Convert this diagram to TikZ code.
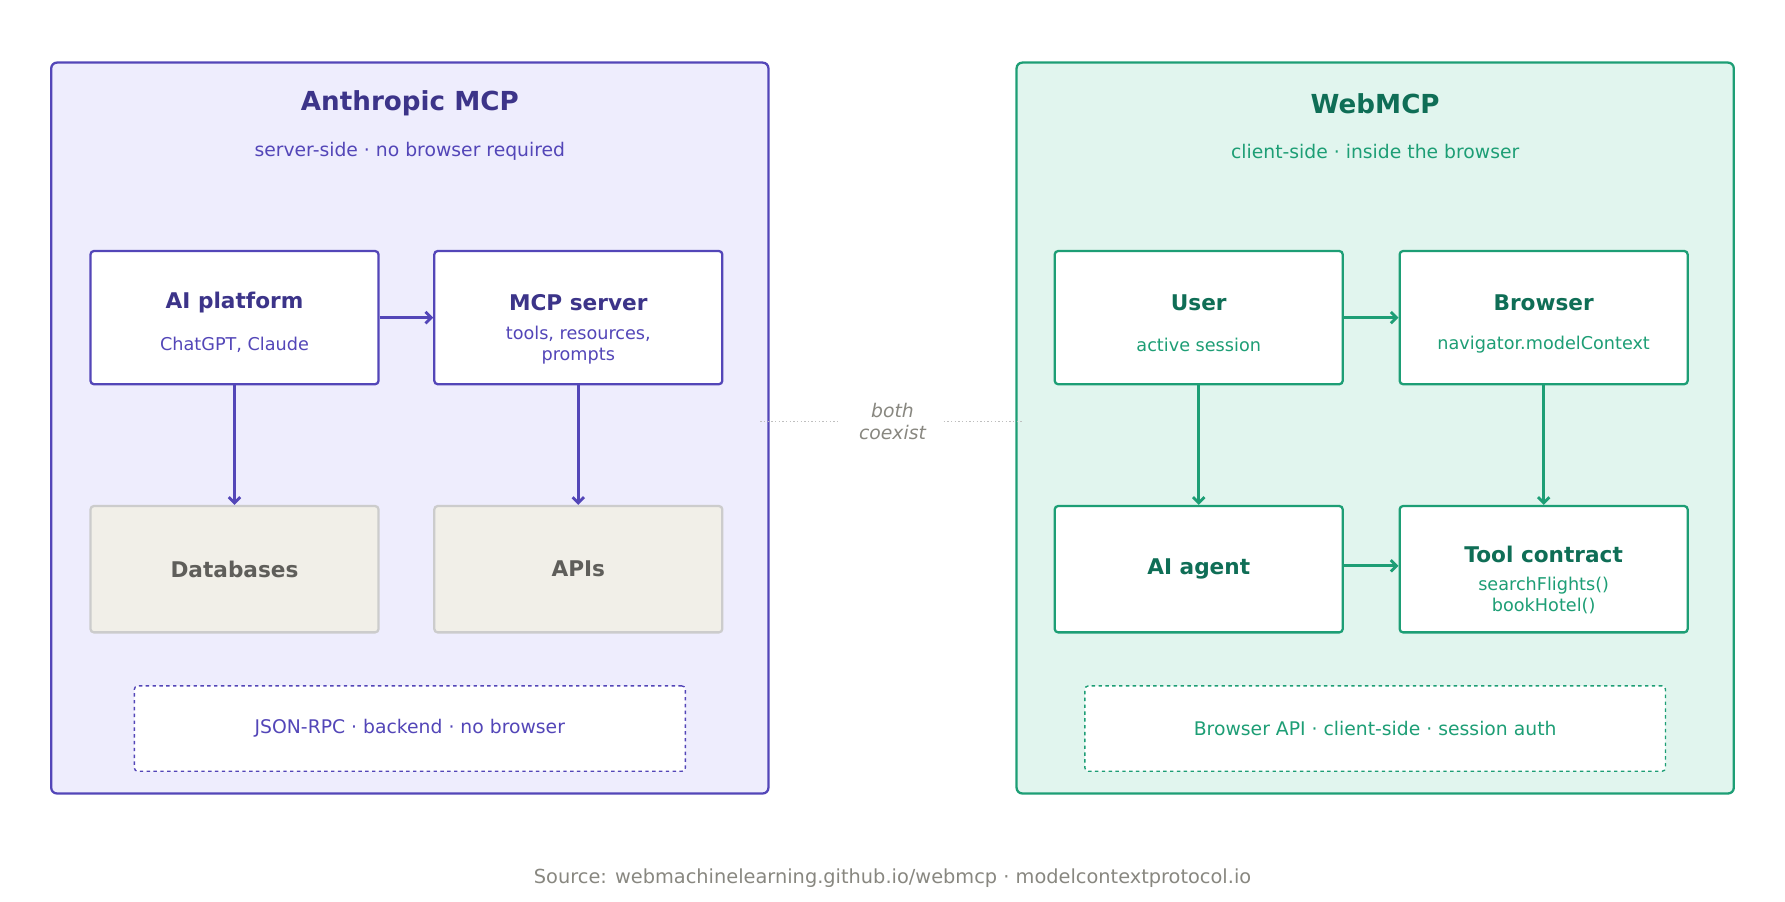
\documentclass[tikz,border=0pt]{standalone}
\usepackage{fontspec}
\setmainfont{DejaVu Sans}
\usetikzlibrary{arrows.meta,positioning}
\definecolor{mcpline}{HTML}{5346B8}
\definecolor{mcpdark}{HTML}{3C3489}
\definecolor{mcpfill}{HTML}{EEEDFD}
\definecolor{webline}{HTML}{1D9E75}
\definecolor{webdark}{HTML}{0F6E56}
\definecolor{webfill}{HTML}{E1F5EE}
\definecolor{storefill}{HTML}{F1EFE8}
\definecolor{storetext}{HTML}{5F5E5A}
\definecolor{note}{HTML}{888780}
\tikzset{
  Panel/.style={draw, line width=2pt, rounded corners=5pt, minimum width=630pt, minimum height=642pt},
  Block/.style={draw, fill=white, line width=2pt, rounded corners=3pt, minimum width=253pt, minimum height=117pt, align=center},
  Store/.style={Block, draw=black!20, fill=storefill, text=storetext, minimum height=111pt, font=\fontsize{19}{22}\selectfont\bfseries},
  Legend/.style={draw, fill=white, dashed, line width=1.2pt, rounded corners=3pt, minimum height=75pt},
  arrow/.style={-{Straight Barb[length=5pt,width=10pt,line width=2.5pt]}, line width=2.5pt},
}
\begin{document}
\begin{tikzpicture}[x=1pt,y=-1pt]
	\useasboundingbox (0,0) rectangle (1568,792);
	% Anthropic MCP
	\node [Panel, draw=mcpline, fill=mcpfill] (mcp) at (360,376) {};
	\node [text=mcpdark, font=\fontsize{23}{26}\selectfont\bfseries] (mcp_title) at (360,91) {Anthropic MCP};
	\node [text=mcpline, font=\fontsize{16.5}{20}\selectfont] (mcp_sub) at (360,133) {server-side · no browser required};
	\node [Block, draw=mcpline] (platform) at (206,279) {};
	\node [text=mcpdark, font=\fontsize{19}{22}\selectfont\bfseries] at (206,266) {AI platform};
	\node [text=mcpline, font=\fontsize{15.5}{18}\selectfont] at (206,303) {ChatGPT, Claude};
	\node [Block, draw=mcpline] (server) at (508,279) {};
	\node [text=mcpdark, font=\fontsize{19}{22}\selectfont\bfseries] at (508,266) {MCP server};
	\node [text=mcpline, font=\fontsize{15.5}{18}\selectfont, align=center] at (508,303) {tools, resources,\\prompts};
	\node [Store] (databases) at (206,500) {Databases};
	\node [Store] (apis) at (508,500) {APIs};
	\node [Legend, draw=mcpline, minimum width=484pt, text=mcpline, font=\fontsize{16.5}{20}\selectfont] (mcp_note) at (360,640) {JSON-RPC · backend · no browser};
	% WebMCP
	\node [Panel, draw=webline, fill=webfill] (web) at (1208,376) {};
	\node [text=webdark, font=\fontsize{23}{26}\selectfont\bfseries] (web_title) at (1208,91) {WebMCP};
	\node [text=webline, font=\fontsize{16.5}{20}\selectfont] (web_sub) at (1208,133) {client-side · inside the browser};
	\node [Block, draw=webline] (user) at (1053,279) {};
	\node [text=webdark, font=\fontsize{19}{22}\selectfont\bfseries] at (1053,266) {User};
	\node [text=webline, font=\fontsize{15.5}{18}\selectfont] at (1053,303) {active session};
	\node [Block, draw=webline] (browser) at (1356,279) {};
	\node [text=webdark, font=\fontsize{19}{22}\selectfont\bfseries] at (1356,266) {Browser};
	\node [text=webline, font=\fontsize{15.5}{18}\selectfont] at (1356,303) {navigator.modelContext};
	\node [Block, draw=webline, minimum height=111pt, text=webdark, font=\fontsize{19}{22}\selectfont\bfseries] (agent) at (1053,500) {AI agent};
	\node [Block, draw=webline, minimum height=111pt] (contract) at (1356,500) {};
	\node [text=webdark, font=\fontsize{19}{22}\selectfont\bfseries] at (1356,487) {Tool contract};
	\node [text=webline, font=\fontsize{15.5}{18}\selectfont, align=center] at (1356,523) {searchFlights()\\bookHotel()};
	\node [Legend, draw=webline, minimum width=510pt, text=webline, font=\fontsize{16.5}{20}\selectfont] (web_note) at (1208,640) {Browser API · client-side · session auth};
	% arrows
	\draw [arrow, draw=mcpline] (platform) to (server);
	\draw [arrow, draw=mcpline] (platform) to (databases);
	\draw [arrow, draw=mcpline] (server) to (apis);
	\draw [arrow, draw=webline] (user) to (browser);
	\draw [arrow, draw=webline] (user) to (agent);
	\draw [arrow, draw=webline] (browser) to (contract);
	\draw [arrow, draw=webline] (agent.east |- 0,497) to (contract.west |- 0,497);
	% coexist
	\node [text=note, font=\fontsize{16.5}{19}\selectfont\itshape, align=center] (both) at (784,370) {both\\coexist};
	\coordinate (dots_left) at (668,370);
	\coordinate (dots_right) at (899,370);
	\draw [black!25, dotted, line width=1.2pt] (dots_left) -- (738,370);
	\draw [black!25, dotted, line width=1.2pt] (829,370) -- (dots_right);
	\node [text=note, font=\fontsize{17}{20}\selectfont] (source) at (784,771) {Source: webmachinelearning.github.io/webmcp · modelcontextprotocol.io};
\end{tikzpicture}
\end{document}
